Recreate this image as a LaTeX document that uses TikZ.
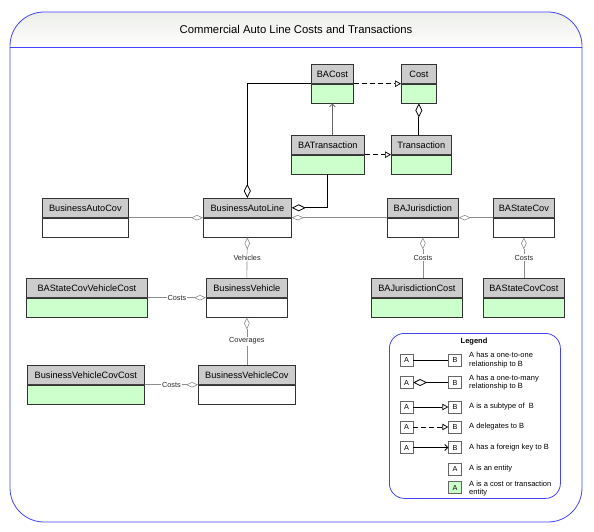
\documentclass[tikz,border=0pt]{standalone}
\usepackage{fontspec}
\setmainfont{Liberation Sans}
\usetikzlibrary{positioning, arrows.meta}
\definecolor{hdgray}{HTML}{CCCCCC}
\definecolor{costgreen}{HTML}{CCFFCC}
\definecolor{frameblue}{HTML}{4444FF}
\definecolor{bandgray}{HTML}{ECEEE8}
\tikzset{
  hd/.style={draw=black!80, fill=hdgray, line width=0.7pt, minimum width=#1,
    minimum height=19pt, inner sep=0pt, anchor=north west,
    font=\fontsize{9.2}{11}\selectfont},
  body/.style={draw=black!80, fill=white, line width=0.7pt, minimum width=#1,
    minimum height=19pt, inner sep=0pt},
  costbody/.style={body=#1, fill=costgreen},
  sepline/.style={draw=black!75, line width=1.5pt},
  lbl/.style={fill=white, inner sep=1pt, text=black!85,
    font=\fontsize{7.3}{8}\selectfont},
  % connectors
  agg/.style={draw=black!45, line width=0.6pt,
    -{Diamond[fill=white, length=12pt, width=5.5pt]}},
  own/.style={draw=black, line width=0.8pt,
    -{Diamond[fill=white, length=14pt, width=7pt]}},
  deleg/.style={draw=black, line width=0.7pt, dash pattern=on 5pt off 3pt,
    -{Triangle[open, length=6pt, width=6.5pt]}},
  subt/.style={draw=black, line width=0.7pt,
    -{Triangle[open, length=6pt, width=6.5pt]}},
  fkey/.style={draw=black!60, line width=0.8pt,
    -{Straight Barb[length=3pt, width=6pt]}},
  frame/.style={draw=frameblue, line width=0.8pt},
  lbox/.style={draw=black!60, fill=white, minimum width=13pt, minimum height=12pt,
    inner sep=0pt, font=\fontsize{7.3}{8}\selectfont},
  ltext/.style={anchor=west, align=left, inner sep=0pt,
    font=\fontsize{7.5}{8.6}\selectfont}
}

\begin{document}
\begin{tikzpicture}[x=1pt, y=-1pt]
  \useasboundingbox (0,0) rectangle (594,532);

  % outer frame and title band
  \begin{scope}
    \clip [rounded corners=34pt] (10,12) rectangle (582,522);
    \shade [top color=bandgray, bottom color=white] (10,12) rectangle (582,47);
  \end{scope}
  \draw [frame, rounded corners=34pt] (10,12) rectangle (582,522);
  \draw [frame] (10,47) -- (582,47);
  \node (title) [font=\fontsize{11.3}{13}\selectfont] at (296,29)
    {Commercial Auto Line Costs and Transactions};

  % entities
  \node (bacost) [hd=42pt] at (311, 64) {BACost};
  \node (bacost-b) [costbody=42pt, below=0pt of bacost] {};
  \node (cost) [hd=35pt] at (401, 64) {Cost};
  \node (cost-b) [costbody=35pt, below=0pt of cost] {};
  \node (batr) [hd=73pt] at (291, 135) {BATransaction};
  \node (batr-b) [costbody=73pt, below=0pt of batr] {};
  \node (tr) [hd=60pt] at (391, 135) {Transaction};
  \node (tr-b) [costbody=60pt, below=0pt of tr] {};

  \node (bac) [hd=86pt] at (42, 198) {BusinessAutoCov};
  \node (bac-b) [body=86pt, below=0pt of bac] {};
  \node (bal) [hd=88pt] at (203, 198) {BusinessAutoLine};
  \node (bal-b) [body=88pt, below=0pt of bal] {};
  \node (baj) [hd=71pt] at (387, 198) {BAJurisdiction};
  \node (baj-b) [body=71pt, below=0pt of baj] {};
  \node (basc) [hd=61pt] at (493, 198) {BAStateCov};
  \node (basc-b) [body=61pt, below=0pt of basc] {};

  \node (bscvc) [hd=121pt] at (26, 278) {BAStateCovVehicleCost};
  \node (bscvc-b) [costbody=121pt, below=0pt of bscvc] {};
  \node (bv) [hd=81pt] at (206, 278) {BusinessVehicle};
  \node (bv-b) [body=81pt, below=0pt of bv] {};
  \node (bjc) [hd=91pt] at (371, 278) {BAJurisdictionCost};
  \node (bjc-b) [costbody=91pt, below=0pt of bjc] {};
  \node (bscc) [hd=81pt] at (483, 278) {BAStateCovCost};
  \node (bscc-b) [costbody=81pt, below=0pt of bscc] {};

  \node (bvcc) [hd=117pt] at (27, 365) {BusinessVehicleCovCost};
  \node (bvcc-b) [costbody=117pt, below=0pt of bvcc] {};
  \node (bvc) [hd=97pt] at (198, 365) {BusinessVehicleCov};
  \node (bvc-b) [body=97pt, below=0pt of bvc] {};

  \foreach \n in {bacost, cost, batr, tr, bac, bal, baj, basc, bscvc, bv, bjc,
      bscc, bvcc, bvc}
    \draw [sepline] (\n.south west) -- (\n.south east);

  % cost and transaction links
  \draw [own] (bacost.south west) -| (bal.north);
  \draw [own] (batr-b.south) |- (bal.east);
  \draw [fkey] (batr.north -| bacost-b.south) -- (bacost-b.south);
  \draw [deleg] (bacost.south east) -- (cost.south west);
  \draw [deleg] (batr.south east) -- (tr.south west);
  \draw [own] (tr.north -| cost-b.south) -- (cost-b.south);

  % aggregations
  \draw (bac.south east) edge [agg] (bal.south west);
  \draw (baj.south west) edge [agg] (bal.south east);
  \draw (basc.south west) edge [agg] (baj.south east);
  \draw (bv.north) edge [agg] node [lbl] {Vehicles} (bal-b.south);
  \draw (bscvc.south east) edge [agg] node [lbl] {Costs} (bv.south west);
  \draw (bvc.north) edge [agg] node [lbl] {Coverages} (bv-b.south);
  \draw (bvcc.south east) edge [agg] node [lbl] {Costs} (bvc.south west);
  \draw (bjc.north -| baj-b.south) edge [agg] node [lbl] {Costs} (baj-b.south);
  \draw (bscc.north) edge [agg] node [lbl] {Costs} (basc-b.south);

  % legend
  \node (legend) [frame, rounded corners=15pt, anchor=north west,
    minimum width=171pt, minimum height=165pt] at (389, 333) {};
  \node (legtitle) [font=\fontsize{7.5}{9}\selectfont\bfseries] at (474, 342) {Legend};
  \foreach \i/\y in {1/360, 2/382.5, 3/407, 4/427, 5/447.5} {
    \node (la\i) [lbox] at (406.5, \y) {A};
    \node (lb\i) [lbox] at (455, \y) {B};
  }
  \node (la6) [lbox] at (455, 469) {A};
  \node (la7) [lbox, fill=costgreen] at (455, 487.5) {A};

  \draw [line width=0.7pt] (la1) -- (lb1);
  \draw [own, -, {Diamond[fill=white, length=14pt, width=7pt]}-] (la2) -- (lb2);
  \draw [subt] (la3) -- (lb3);
  \draw [deleg] (la4) -- (lb4);
  \draw [fkey, draw=black] (la5) -- (lb5);

  \node (lt1) [ltext] at (469, 360) {A has a one-to-one\\relationship to B};
  \node (lt2) [ltext] at (469, 382.5) {A has a one-to-many\\relationship to B};
  \node (lt3) [ltext] at (469, 407) {A is a subtype of~ B};
  \node (lt4) [ltext] at (469, 427) {A delegates to B};
  \node (lt5) [ltext] at (469, 447.5) {A has a foreign key to B};
  \node (lt6) [ltext] at (469, 469) {A is an entity};
  \node (lt7) [ltext] at (469, 488.5) {A is a cost or transaction\\entity};
\end{tikzpicture}
\end{document}
